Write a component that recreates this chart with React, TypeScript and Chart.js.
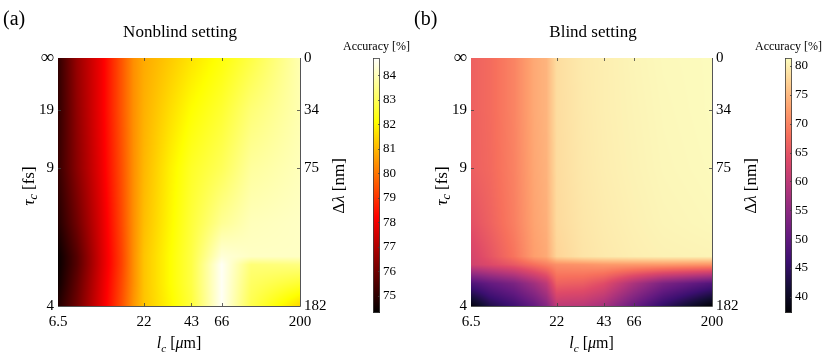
import React, { useEffect, useRef } from 'react';
import { Chart, registerables } from 'chart.js';
Chart.register(...registerables);

const FONT = '"Liberation Serif", "Times New Roman", serif';

// grid nodes of the measurements
const LC_UM = [6.5, 8.5, 12, 16, 19, 22, 32, 43, 66, 100, 200];
const TAU_FS = [Infinity, 19, 9, 6, 5, 4.8, 4.4, 4];

// axis ticks
const LC_TICKS = [6.5, 22, 43, 66, 200];
const LC_TICK_LABELS = ['6.5', '22', '43', '66', '200'];
const TAU_TICKS = [Infinity, 19, 9, 4];
const TAU_TICK_LABELS = ['∞', '19', '9', '4'];
const DLAMBDA_TICK_LABELS = ['0', '34', '75', '182'];

// accuracy [%], rows follow TAU_FS, columns follow LC_UM
const NONBLIND_ACC = [
  [75.0, 76.6, 78.0, 79.5, 80.4, 80.8, 81.3, 81.7, 82.2, 82.8, 83.9],
  [75.0, 76.5, 78.0, 79.5, 80.4, 80.9, 81.6, 82.1, 82.6, 83.3, 83.9],
  [75.1, 76.4, 77.9, 79.4, 80.4, 81.0, 81.9, 82.5, 83.0, 83.7, 84.0],
  [74.8, 76.0, 77.7, 79.3, 80.4, 81.1, 82.0, 82.7, 83.6, 84.0, 84.1],
  [74.4, 75.6, 77.6, 79.2, 80.4, 81.2, 82.1, 82.8, 84.3, 84.1, 84.1],
  [74.4, 75.6, 77.6, 79.2, 80.4, 81.2, 82.1, 82.8, 84.6, 83.3, 83.4],
  [74.5, 75.8, 77.7, 79.3, 80.4, 81.2, 82.1, 82.8, 84.6, 83.1, 82.6],
  [74.8, 76.0, 77.8, 79.4, 80.5, 81.2, 82.0, 82.7, 84.6, 82.9, 81.5],
];
const BLIND_ACC = [
  [66.4, 67.5, 70.0, 73.5, 74.5, 78.3, 79.6, 80.0, 80.6, 81.0, 81.2],
  [66.4, 67.5, 70.0, 73.5, 74.5, 78.3, 79.5, 80.0, 80.5, 80.9, 81.2],
  [66.2, 67.3, 69.8, 73.3, 74.3, 78.2, 79.4, 79.9, 80.4, 80.8, 81.1],
  [64.5, 66.5, 69.5, 73.0, 74.0, 78.0, 79.2, 79.7, 80.2, 80.6, 80.9],
  [62.5, 65.0, 68.5, 72.5, 73.5, 77.5, 79.0, 79.5, 80.0, 80.3, 80.5],
  [62.0, 63.5, 65.5, 68.0, 69.5, 71.0, 71.5, 72.0, 72.0, 72.0, 71.5],
  [48.0, 50.5, 53.0, 57.0, 60.0, 66.5, 66.0, 64.0, 58.0, 53.0, 48.5],
  [38.0, 43.0, 46.5, 50.5, 54.0, 60.0, 59.5, 57.5, 51.0, 45.0, 37.4],
];

// colour scales
const NONBLIND_RANGE = [74.3, 84.7];
const NONBLIND_CB_TICKS = [75, 76, 77, 78, 79, 80, 81, 82, 83, 84];
const BLIND_RANGE = [37.2, 81.4];
const BLIND_CB_TICKS = [40, 45, 50, 55, 60, 65, 70, 75, 80];

const clamp = (v: number) => (v < 0 ? 0 : v > 1 ? 1 : v);

function hot(t: number): number[] {
  t = clamp(t);
  return [clamp(t / 0.375) * 255, clamp((t - 0.375) / 0.375) * 255, clamp((t - 0.75) / 0.25) * 255];
}
const MAGMA = [
  [0, 0, 4], [20, 14, 54], [59, 15, 112], [100, 26, 128], [140, 41, 129], [183, 55, 121],
  [222, 73, 104], [247, 112, 92], [254, 159, 109], [254, 207, 146], [252, 253, 191],
];
function magma(t: number): number[] {
  t = clamp(t) * 10;
  const i = Math.min(9, Math.floor(t));
  const f = t - i;
  const a = MAGMA[i], b = MAGMA[i + 1];
  return [a[0] + (b[0] - a[0]) * f, a[1] + (b[1] - a[1]) * f, a[2] + (b[2] - a[2]) * f];
}

function bilinear(xs: number[], ys: number[], rows: number[][], x: number, y: number) {
  let i = 0;
  while (i < xs.length - 2 && x > xs[i + 1]) i++;
  let j = 0;
  while (j < ys.length - 2 && y > ys[j + 1]) j++;
  const tx = clamp((x - xs[i]) / (xs[i + 1] - xs[i]));
  const ty = clamp((y - ys[j]) / (ys[j + 1] - ys[j]));
  const a = rows[j][i] * (1 - tx) + rows[j][i + 1] * tx;
  const b = rows[j + 1][i] * (1 - tx) + rows[j + 1][i + 1] * tx;
  return a * (1 - ty) + b * ty;
}

type Part = { t: string; it?: boolean; sub?: boolean };
function fontFor(p: Part, size: number) {
  return `${p.it ? 'italic ' : ''}${p.sub ? size * 0.7 : size}px ${FONT}`;
}
function drawRich(ctx: CanvasRenderingContext2D, parts: Part[], cx: number, cy: number, size: number) {
  let total = 0;
  const widths = parts.map((p) => {
    ctx.font = fontFor(p, size);
    const w = ctx.measureText(p.t).width;
    total += w;
    return w;
  });
  let x = cx - total / 2;
  const base = cy + size * 0.33;
  ctx.textAlign = 'left';
  ctx.textBaseline = 'alphabetic';
  ctx.fillStyle = '#000';
  parts.forEach((p, k) => {
    ctx.font = fontFor(p, size);
    ctx.fillText(p.t, x, base + (p.sub ? size * 0.22 : 0));
    x += widths[k];
  });
}

const X_TITLE: Part[] = [{ t: 'l', it: true }, { t: 'c', it: true, sub: true }, { t: ' [' }, { t: 'μ', it: true }, { t: 'm]' }];
const Y_TITLE: Part[] = [{ t: 'τ', it: true }, { t: 'c', it: true, sub: true }, { t: ' [fs]' }];
const Y2_TITLE: Part[] = [{ t: 'Δ' }, { t: 'λ', it: true }, { t: ' [nm]' }];

type PanelProps = {
  left: number;
  width: number;
  rightAxisWidth: number;
  title: string;
  letter: string;
  acc: number[][];
  cmap: (t: number) => number[];
  range: number[];
};

function HeatPanel({ left, width, rightAxisWidth, title, letter, acc, cmap, range }: PanelProps) {
  const ref = useRef<HTMLCanvasElement | null>(null);
  useEffect(() => {
    const lxs = LC_UM.map((v) => Math.log(v));
    const ys = TAU_FS.map((t) => 1 / t);
    const points: any[] = [];
    TAU_FS.forEach((t, j) => LC_UM.forEach((lc, i) => points.push({ x: lc, y: 1 / t, v: acc[j][i] })));
    const [vmin, vmax] = range;

    const heat = {
      id: 'heat',
      beforeDatasetsDraw(chart: any) {
        const { ctx, chartArea: a, scales } = chart;
        const w = Math.round(a.right - a.left);
        const h = Math.round(a.bottom - a.top);
        const off = document.createElement('canvas');
        off.width = w;
        off.height = h;
        const octx = off.getContext('2d')!;
        const img = octx.createImageData(w, h);
        const xl = new Array(w);
        for (let px = 0; px < w; px++) xl[px] = Math.log(scales.x.getValueForPixel(a.left + px + 0.5));
        for (let py = 0; py < h; py++) {
          const yv = scales.y.getValueForPixel(a.top + py + 0.5);
          for (let px = 0; px < w; px++) {
            const v = bilinear(lxs, ys, acc, xl[px], yv);
            const c = cmap((v - vmin) / (vmax - vmin));
            const k = (py * w + px) * 4;
            img.data[k] = c[0];
            img.data[k + 1] = c[1];
            img.data[k + 2] = c[2];
            img.data[k + 3] = 255;
          }
        }
        octx.putImageData(img, 0, 0);
        ctx.drawImage(off, a.left, a.top);
      },
    };

    const deco = {
      id: 'deco',
      afterDraw(chart: any) {
        const { ctx, chartArea: a, scales } = chart;
        ctx.save();
        ctx.strokeStyle = '#404040';
        ctx.lineWidth = 0.8;
        ctx.beginPath();
        LC_TICKS.slice(1, -1).forEach((v) => {
          const px = Math.round(scales.x.getPixelForValue(v)) + 0.5;
          ctx.moveTo(px, a.bottom);
          ctx.lineTo(px, a.bottom - 3);
          ctx.moveTo(px, a.top);
          ctx.lineTo(px, a.top + 3);
        });
        TAU_TICKS.slice(1, -1).forEach((t) => {
          const py = Math.round(scales.y.getPixelForValue(1 / t)) + 0.5;
          ctx.moveTo(a.left, py);
          ctx.lineTo(a.left + 3, py);
          ctx.moveTo(a.right, py);
          ctx.lineTo(a.right - 3, py);
        });
        ctx.stroke();
        ctx.strokeStyle = '#555';
        ctx.lineWidth = 1;
        ctx.beginPath();
        ctx.moveTo(a.right + 0.5, a.top);
        ctx.lineTo(a.right + 0.5, a.bottom + 0.5);
        ctx.lineTo(a.left, a.bottom + 0.5);
        ctx.stroke();

        drawRich(ctx, X_TITLE, (a.left + a.right) / 2, 343, 16);
        const cy = (a.top + a.bottom) / 2 + 4;
        ctx.save();
        ctx.translate(a.left - 30, cy);
        ctx.rotate(-Math.PI / 2);
        drawRich(ctx, Y_TITLE, 0, 0, 17);
        ctx.restore();
        ctx.save();
        ctx.translate(a.right + 38, cy);
        ctx.rotate(-Math.PI / 2);
        drawRich(ctx, Y2_TITLE, 0, 0, 17);
        ctx.restore();

        ctx.font = `20px ${FONT}`;
        ctx.fillStyle = '#000';
        ctx.textAlign = 'left';
        ctx.textBaseline = 'middle';
        ctx.fillText(letter, letter === '(a)' ? 3 : 1, 20);
        ctx.restore();
      },
    };

    const tickFont = { family: FONT, size: 15 };
    const yCommon = (labels: string[], w: number, pos: string) => ({
      type: 'linear',
      position: pos,
      min: 0,
      max: 0.25,
      reverse: true,
      afterBuildTicks: (s: any) => {
        s.ticks = TAU_TICKS.map((t) => ({ value: 1 / t }));
      },
      afterFit: (s: any) => {
        s.width = w;
      },
      grid: { display: false, drawTicks: false },
      border: { display: false },
      ticks: {
        autoSkip: false,
        padding: 4,
        color: '#000',
        font: (c: any) => (labels[c.index] === '∞' ? { family: FONT, size: 19 } : tickFont),
        callback: (_v: any, i: number) => labels[i],
      },
    });

    const chart = new Chart(ref.current!, {
      type: 'scatter',
      data: { datasets: [{ data: points, pointRadius: 0, pointHoverRadius: 0 }] },
      options: {
        responsive: false,
        animation: false,
        devicePixelRatio: 1,
        events: [],
        layout: { padding: 0 },
        plugins: {
          legend: { display: false },
          tooltip: { enabled: false },
          title: {
            display: true,
            text: title,
            color: '#000',
            font: { family: FONT, size: 17, weight: 'normal', lineHeight: 1.2 },
            padding: { top: 22, bottom: 15.6 },
          },
        },
        scales: {
          x: {
            type: 'logarithmic',
            position: 'bottom',
            min: 6.5,
            max: 200,
            afterBuildTicks: (s: any) => {
              s.ticks = LC_TICKS.map((v) => ({ value: v }));
            },
            afterFit: (s: any) => {
              s.height = 54;
            },
            grid: { display: false, drawTicks: false },
            border: { display: false },
            ticks: {
              autoSkip: false,
              maxRotation: 0,
              padding: 7,
              color: '#000',
              font: tickFont,
              callback: (_v: any, i: number) => LC_TICK_LABELS[i],
            },
          },
          y: yCommon(TAU_TICK_LABELS, 58, 'left'),
          y2: yCommon(DLAMBDA_TICK_LABELS, rightAxisWidth, 'right'),
        },
      } as any,
      plugins: [heat, deco],
    });
    return () => chart.destroy();
  }, []);
  return (
    <canvas
      ref={ref}
      width={width}
      height={360}
      style={{ position: 'absolute', left, top: 0, width, height: 360 }}
    />
  );
}

type CbProps = {
  left: number;
  width: number;
  axisWidth: number;
  range: number[];
  ticks: number[];
  cmap: (t: number) => number[];
};

function ColorBar({ left, width, axisWidth, range, ticks, cmap }: CbProps) {
  const ref = useRef<HTMLCanvasElement | null>(null);
  useEffect(() => {
    const [vmin, vmax] = range;
    const bar = {
      id: 'bar',
      beforeDatasetsDraw(chart: any) {
        const { ctx, chartArea: a, scales } = chart;
        ctx.save();
        for (let py = Math.floor(a.top); py < Math.ceil(a.bottom); py++) {
          const v = scales.y.getValueForPixel(py + 0.5);
          const c = cmap((v - vmin) / (vmax - vmin));
          ctx.fillStyle = `rgb(${Math.round(c[0])},${Math.round(c[1])},${Math.round(c[2])})`;
          ctx.fillRect(a.left, py, a.right - a.left, 1);
        }
        ctx.strokeStyle = '#404040';
        ctx.lineWidth = 0.8;
        ctx.strokeRect(a.left + 0.5, a.top + 0.5, a.right - a.left - 1, a.bottom - a.top - 1);
        ctx.beginPath();
        ticks.forEach((v) => {
          const py = Math.round(scales.y.getPixelForValue(v)) + 0.5;
          ctx.moveTo(a.right, py);
          ctx.lineTo(a.right - 2, py);
        });
        ctx.stroke();
        ctx.font = `12px ${FONT}`;
        ctx.fillStyle = '#000';
        ctx.textAlign = 'center';
        ctx.textBaseline = 'middle';
        ctx.fillText('Accuracy [%]', (a.left + a.right) / 2, 47);
        ctx.restore();
      },
    };
    const chart = new Chart(ref.current!, {
      type: 'scatter',
      data: { datasets: [{ data: [], pointRadius: 0 }] },
      options: {
        responsive: false,
        animation: false,
        devicePixelRatio: 1,
        events: [],
        layout: { padding: { left: 33, right: 0, top: 58, bottom: 47 } },
        plugins: { legend: { display: false }, tooltip: { enabled: false }, title: { display: false } },
        scales: {
          x: { display: false, type: 'linear', min: 0, max: 1 },
          y: {
            type: 'linear',
            position: 'right',
            min: vmin,
            max: vmax,
            afterBuildTicks: (s: any) => {
              s.ticks = ticks.map((v) => ({ value: v }));
            },
            afterFit: (s: any) => {
              s.width = axisWidth;
            },
            grid: { display: false, drawTicks: false },
            border: { display: false },
            ticks: {
              autoSkip: false,
              padding: 3,
              color: '#000',
              font: { family: FONT, size: 13 },
              callback: (v: any) => String(v),
            },
          },
        },
      } as any,
      plugins: [bar],
    });
    return () => chart.destroy();
  }, []);
  return (
    <canvas
      ref={ref}
      width={width}
      height={360}
      style={{ position: 'absolute', left, top: 0, width, height: 360 }}
    />
  );
}

export default function App() {
  return (
    <div style={{ position: 'fixed', left: 0, top: 0, width: 831, height: 360, background: '#fff', overflow: 'hidden' }}>
      <HeatPanel
        left={0}
        width={360}
        rightAxisWidth={60}
        title="Nonblind setting"
        letter="(a)"
        acc={NONBLIND_ACC}
        cmap={hot}
        range={NONBLIND_RANGE}
      />
      <ColorBar left={340} width={75} axisWidth={35} range={NONBLIND_RANGE} ticks={NONBLIND_CB_TICKS} cmap={hot} />
      <HeatPanel
        left={413}
        width={360}
        rightAxisWidth={61}
        title="Blind setting"
        letter="(b)"
        acc={BLIND_ACC}
        cmap={magma}
        range={BLIND_RANGE}
      />
      <ColorBar left={752} width={79} axisWidth={39} range={BLIND_RANGE} ticks={BLIND_CB_TICKS} cmap={magma} />
    </div>
  );
}
